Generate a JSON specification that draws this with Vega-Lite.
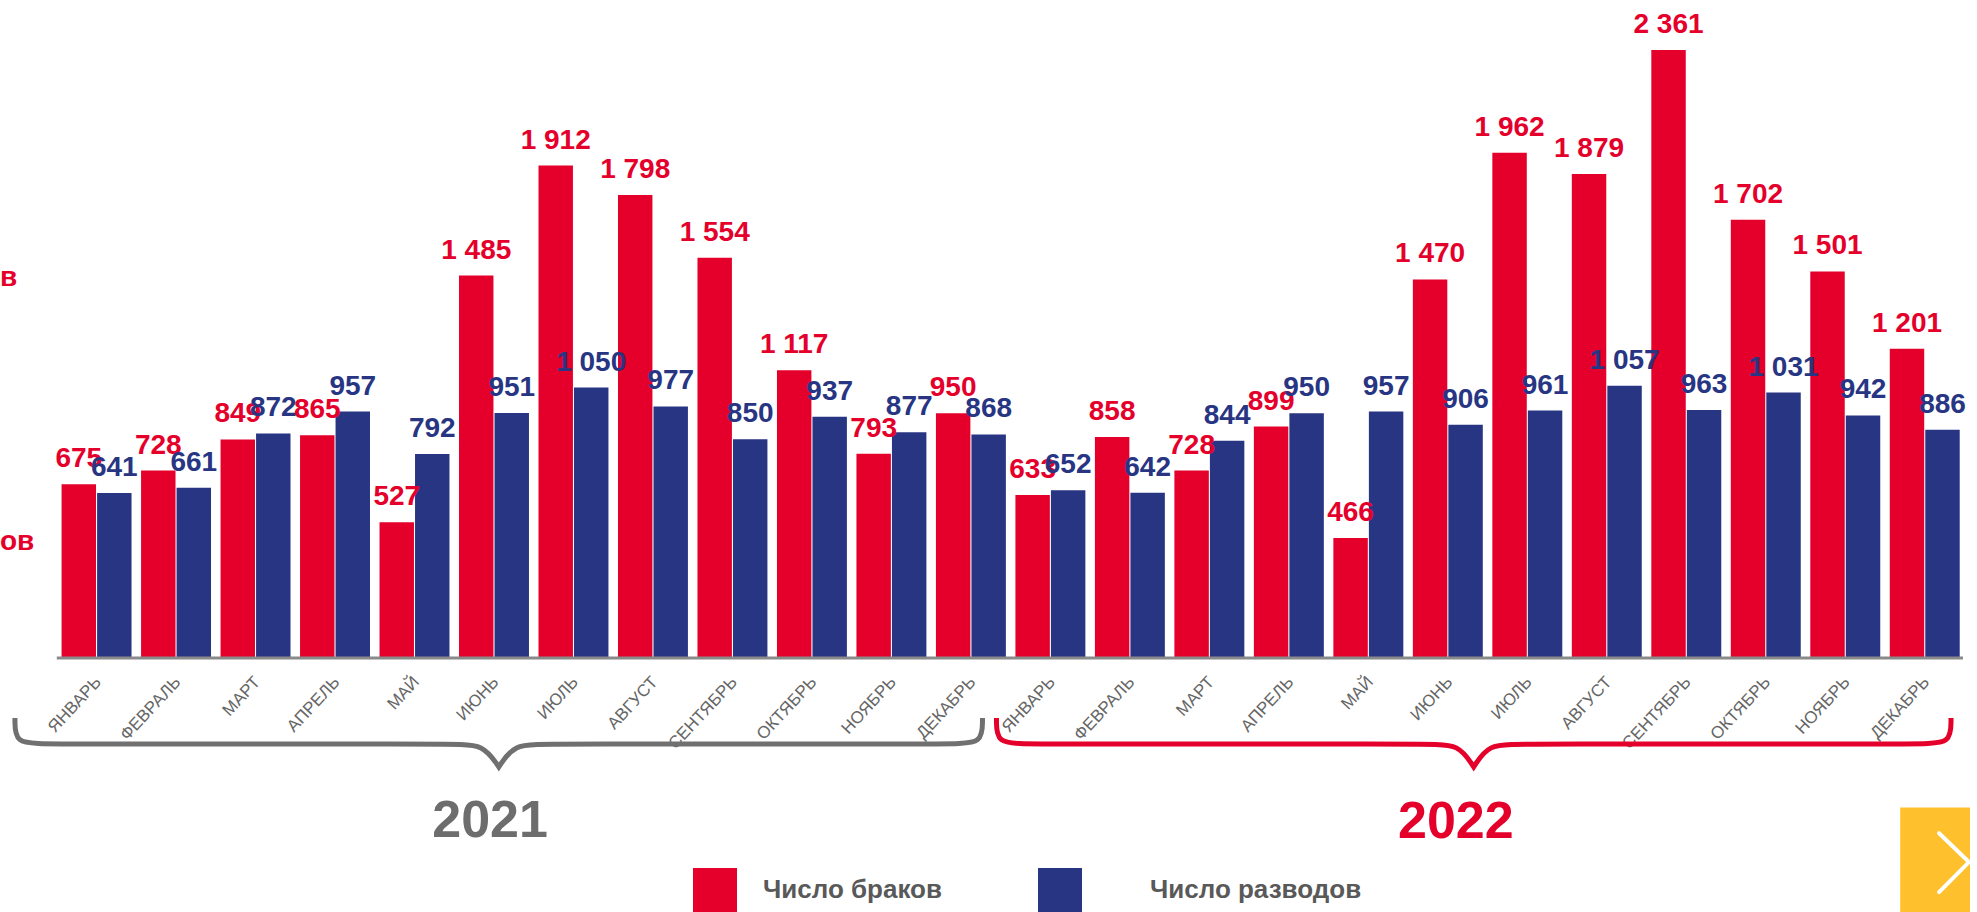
{
  "$schema": "https://vega.github.io/schema/vega-lite/v6.json",
  "width": 1977,
  "height": 912,
  "autosize": {"type": "fit", "contains": "padding"},
  "padding": 0,
  "background": "white",
  "config": {
    "view": {"stroke": null},
    "font": "Liberation Sans",
    "locale": {"number": {"decimal": ",", "thousands": " ", "grouping": [3], "currency": ["", ""]}}
  },
  "datasets": {
    "bars": [
      {"period": "ЯНВАРЬ|2021", "series": "Число браков", "value": 675},
      {"period": "ЯНВАРЬ|2021", "series": "Число разводов", "value": 641},
      {"period": "ФЕВРАЛЬ|2021", "series": "Число браков", "value": 728},
      {"period": "ФЕВРАЛЬ|2021", "series": "Число разводов", "value": 661},
      {"period": "МАРТ|2021", "series": "Число браков", "value": 849},
      {"period": "МАРТ|2021", "series": "Число разводов", "value": 872},
      {"period": "АПРЕЛЬ|2021", "series": "Число браков", "value": 865},
      {"period": "АПРЕЛЬ|2021", "series": "Число разводов", "value": 957},
      {"period": "МАЙ|2021", "series": "Число браков", "value": 527},
      {"period": "МАЙ|2021", "series": "Число разводов", "value": 792},
      {"period": "ИЮНЬ|2021", "series": "Число браков", "value": 1485},
      {"period": "ИЮНЬ|2021", "series": "Число разводов", "value": 951},
      {"period": "ИЮЛЬ|2021", "series": "Число браков", "value": 1912},
      {"period": "ИЮЛЬ|2021", "series": "Число разводов", "value": 1050},
      {"period": "АВГУСТ|2021", "series": "Число браков", "value": 1798},
      {"period": "АВГУСТ|2021", "series": "Число разводов", "value": 977},
      {"period": "СЕНТЯБРЬ|2021", "series": "Число браков", "value": 1554},
      {"period": "СЕНТЯБРЬ|2021", "series": "Число разводов", "value": 850},
      {"period": "ОКТЯБРЬ|2021", "series": "Число браков", "value": 1117},
      {"period": "ОКТЯБРЬ|2021", "series": "Число разводов", "value": 937},
      {"period": "НОЯБРЬ|2021", "series": "Число браков", "value": 793},
      {"period": "НОЯБРЬ|2021", "series": "Число разводов", "value": 877},
      {"period": "ДЕКАБРЬ|2021", "series": "Число браков", "value": 950},
      {"period": "ДЕКАБРЬ|2021", "series": "Число разводов", "value": 868},
      {"period": "ЯНВАРЬ|2022", "series": "Число браков", "value": 633},
      {"period": "ЯНВАРЬ|2022", "series": "Число разводов", "value": 652},
      {"period": "ФЕВРАЛЬ|2022", "series": "Число браков", "value": 858},
      {"period": "ФЕВРАЛЬ|2022", "series": "Число разводов", "value": 642},
      {"period": "МАРТ|2022", "series": "Число браков", "value": 728},
      {"period": "МАРТ|2022", "series": "Число разводов", "value": 844},
      {"period": "АПРЕЛЬ|2022", "series": "Число браков", "value": 899},
      {"period": "АПРЕЛЬ|2022", "series": "Число разводов", "value": 950},
      {"period": "МАЙ|2022", "series": "Число браков", "value": 466},
      {"period": "МАЙ|2022", "series": "Число разводов", "value": 957},
      {"period": "ИЮНЬ|2022", "series": "Число браков", "value": 1470},
      {"period": "ИЮНЬ|2022", "series": "Число разводов", "value": 906},
      {"period": "ИЮЛЬ|2022", "series": "Число браков", "value": 1962},
      {"period": "ИЮЛЬ|2022", "series": "Число разводов", "value": 961},
      {"period": "АВГУСТ|2022", "series": "Число браков", "value": 1879},
      {"period": "АВГУСТ|2022", "series": "Число разводов", "value": 1057},
      {"period": "СЕНТЯБРЬ|2022", "series": "Число браков", "value": 2361},
      {"period": "СЕНТЯБРЬ|2022", "series": "Число разводов", "value": 963},
      {"period": "ОКТЯБРЬ|2022", "series": "Число браков", "value": 1702},
      {"period": "ОКТЯБРЬ|2022", "series": "Число разводов", "value": 1031},
      {"period": "НОЯБРЬ|2022", "series": "Число браков", "value": 1501},
      {"period": "НОЯБРЬ|2022", "series": "Число разводов", "value": 942},
      {"period": "ДЕКАБРЬ|2022", "series": "Число браков", "value": 1201},
      {"period": "ДЕКАБРЬ|2022", "series": "Число разводов", "value": 886}
    ],
    "braces": [
      {"year": 2021, "i": 1, "k": -1.0273, "v": -233},
      {"year": 2021, "i": 2, "k": -1.0273, "v": -334},
      {"year": 2021, "i": 3, "k": -0.6513, "v": -334},
      {"year": 2021, "i": 4, "k": 4.4885, "v": -334},
      {"year": 2021, "i": 5, "k": 4.8646, "v": -334},
      {"year": 2021, "i": 6, "k": 5.0602, "v": -423},
      {"year": 2021, "i": 7, "k": 5.0602, "v": -423},
      {"year": 2021, "i": 8, "k": 5.0602, "v": -423},
      {"year": 2021, "i": 9, "k": 5.2533, "v": -334},
      {"year": 2021, "i": 10, "k": 5.6293, "v": -334},
      {"year": 2021, "i": 11, "k": 10.769, "v": -334},
      {"year": 2021, "i": 12, "k": 11.145, "v": -334},
      {"year": 2021, "i": 13, "k": 11.145, "v": -233},
      {"year": 2022, "i": 1, "k": 11.321, "v": -233},
      {"year": 2022, "i": 2, "k": 11.321, "v": -334},
      {"year": 2022, "i": 3, "k": 11.697, "v": -334},
      {"year": 2022, "i": 4, "k": 16.761, "v": -334},
      {"year": 2022, "i": 5, "k": 17.137, "v": -334},
      {"year": 2022, "i": 6, "k": 17.325, "v": -423},
      {"year": 2022, "i": 7, "k": 17.325, "v": -423},
      {"year": 2022, "i": 8, "k": 17.325, "v": -423},
      {"year": 2022, "i": 9, "k": 17.514, "v": -334},
      {"year": 2022, "i": 10, "k": 17.890, "v": -334},
      {"year": 2022, "i": 11, "k": 22.954, "v": -334},
      {"year": 2022, "i": 12, "k": 23.330, "v": -334},
      {"year": 2022, "i": 13, "k": 23.330, "v": -233}
    ],
    "years": [
      {"year": 2021, "label": "2021", "k": 4.95, "v": -633},
      {"year": 2022, "label": "2022", "k": 17.100, "v": -635}
    ],
    "side": [
      {"label": "в", "k": -1.2154, "v": 1445},
      {"label": "ов", "k": -1.2154, "v": 419}
    ],
    "axisline": [{"k": -0.5008, "k2": 23.481, "v": 0}],
    "button": [{"k": 22.691, "k2": 23.569, "v": -580, "v2": -986}],
    "chevron": [
      {"i": 1, "k": 23.180, "v": -680},
      {"i": 2, "k": 23.556, "v": -792},
      {"i": 3, "k": 23.180, "v": -909}
    ]
  },
  "layer": [
    {
      "data": {"name": "bars"},
      "encoding": {
        "x": {
          "field": "period",
          "type": "nominal",
          "sort": null,
          "scale": {"paddingInner": 0.12, "paddingOuter": 0.452, "align": 0.857},
          "axis": {
            "orient": "bottom",
            "offset": -254,
            "domain": false,
            "ticks": false,
            "grid": false,
            "title": null,
            "labelAngle": -47,
            "labelAlign": "right",
            "labelBaseline": "middle",
            "labelPadding": 21,
            "labelOffset": 2,
            "labelFontSize": 17,
            "labelFont": "Liberation Sans",
            "labelColor": "#666666",
            "labelOverlap": false,
            "labelExpr": "split(datum.value, '|')[0]"
          }
        },
        "xOffset": {"field": "series", "type": "nominal", "scale": {"paddingInner": 0.03}},
        "y": {
          "field": "value",
          "type": "quantitative",
          "scale": {"domain": [-986, 2555], "nice": false, "zero": false},
          "axis": null
        },
        "color": {
          "field": "series",
          "type": "nominal",
          "scale": {"domain": ["Число браков", "Число разводов"], "range": ["#E4002B", "#283583"]},
          "legend": {
            "orient": "none",
            "legendX": 693,
            "legendY": 868,
            "direction": "horizontal",
            "title": null,
            "padding": 0,
            "symbolType": "square",
            "symbolSize": 1936,
            "symbolStrokeWidth": 0,
            "symbolOpacity": 1,
            "labelFont": "Liberation Sans",
            "labelFontSize": 26,
            "labelFontWeight": "bold",
            "labelColor": "#595959",
            "labelOffset": 26,
            "labelLimit": 500,
            "columnPadding": 96,
            "encode": {
              "labels": {
                "update": {
                  "dx": {"signal": "datum.label == 'Число разводов' ? 42 : 0"}
                }
              }
            }
          }
        }
      },
      "layer": [
        {"mark": {"type": "bar"}, "encoding": {"y2": {"datum": 0}}},
        {
          "mark": {"type": "text", "fontSize": 28, "fontWeight": "bold", "font": "Liberation Sans", "baseline": "alphabetic", "align": "center", "dy": -17},
          "encoding": {"text": {"field": "value", "type": "quantitative", "format": ",d"}}
        }
      ]
    },
    {
      "encoding": {
        "x": {"field": "k", "type": "quantitative", "scale": {"domain": [-1.2154, 23.569], "nice": false, "zero": false}, "axis": null},
        "y": {"field": "v", "type": "quantitative", "scale": {"domain": [-986, 2555], "nice": false, "zero": false}, "axis": null}
      },
      "layer": [
        {
          "data": {"name": "axisline"},
          "mark": {"type": "rule", "color": "#8a8a8a", "strokeWidth": 3},
          "encoding": {"x2": {"field": "k2"}}
        },
        {
          "data": {"name": "braces"},
          "transform": [{"filter": "datum.year == 2021"}],
          "mark": {"type": "line", "interpolate": "basis", "color": "#707070", "strokeWidth": 5},
          "encoding": {"order": {"field": "i", "type": "quantitative"}}
        },
        {
          "data": {"name": "braces"},
          "transform": [{"filter": "datum.year == 2022"}],
          "mark": {"type": "line", "interpolate": "basis", "color": "#E4002B", "strokeWidth": 5},
          "encoding": {"order": {"field": "i", "type": "quantitative"}}
        },
        {
          "data": {"name": "years"},
          "transform": [{"filter": "datum.year == 2021"}],
          "mark": {"type": "text", "fontSize": 52, "fontWeight": "bold", "font": "Liberation Sans", "color": "#6d6d6d", "baseline": "middle", "align": "center"},
          "encoding": {"text": {"field": "label"}}
        },
        {
          "data": {"name": "years"},
          "transform": [{"filter": "datum.year == 2022"}],
          "mark": {"type": "text", "fontSize": 52, "fontWeight": "bold", "font": "Liberation Sans", "color": "#E4002B", "baseline": "middle", "align": "center"},
          "encoding": {"text": {"field": "label"}}
        },
        {
          "data": {"name": "side"},
          "mark": {"type": "text", "fontSize": 28, "fontWeight": "bold", "font": "Liberation Sans", "color": "#E4002B", "baseline": "alphabetic", "align": "left"},
          "encoding": {"text": {"field": "label"}}
        },
        {
          "data": {"name": "button"},
          "mark": {"type": "rect", "color": "#FEC12D"},
          "encoding": {"x2": {"field": "k2"}, "y2": {"field": "v2"}}
        },
        {
          "data": {"name": "chevron"},
          "mark": {"type": "line", "color": "white", "strokeWidth": 4, "strokeCap": "round", "strokeJoin": "miter"},
          "encoding": {"order": {"field": "i", "type": "quantitative"}}
        }
      ]
    }
  ],
  "resolve": {"scale": {"x": "independent"}}
}
